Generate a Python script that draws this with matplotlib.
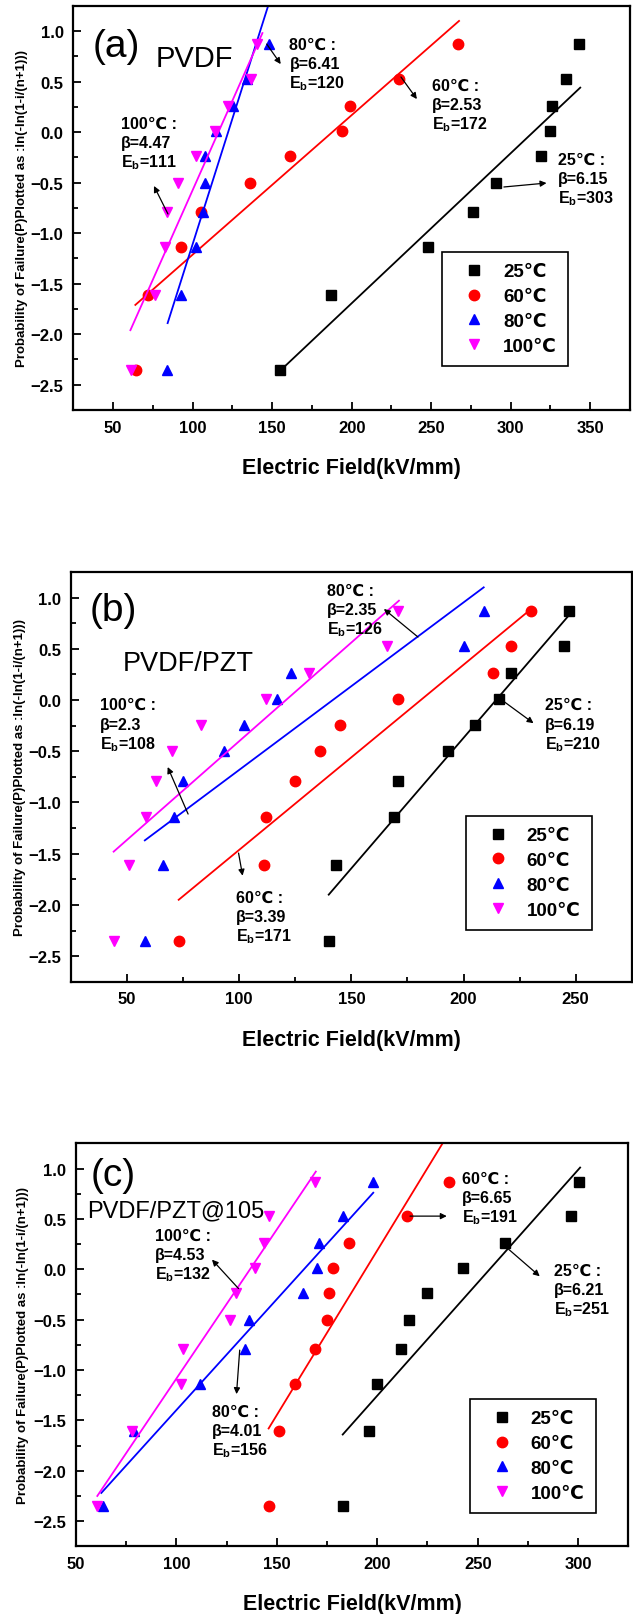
import matplotlib
matplotlib.use('Agg')
import matplotlib.pyplot as plt

plt.rcParams['font.family'] = ['Liberation Sans', 'DejaVu Sans']
plt.rcParams['font.weight'] = 'bold'
plt.rcParams['axes.labelweight'] = 'bold'
plt.rcParams['mathtext.default'] = 'regular'

# Weibull plotting positions ln(-ln(1-i/(n+1))) for the 10 samples
prob = [-2.35, -1.61, -1.14, -0.79, -0.50, -0.24, 0.01, 0.26, 0.53, 0.87]

temps = ['25℃', '60℃', '80℃', '100℃']
colors = ['black', 'red', 'blue', 'magenta']
markers = ['s', 'o', '^', 'v']

# (a) PVDF breakdown fields, kV/mm
pvdf_25 = [155, 187, 248, 276, 291, 319, 325, 326, 335, 343]
pvdf_60 = [64.5, 72, 93, 105, 136, 161, 194, 199, 230, 267]
pvdf_80 = [84, 93, 102, 106.5, 107.5, 107.5, 115, 125.5, 134.5, 148]
pvdf_100 = [61, 76.5, 82.5, 84, 91, 102, 114, 122, 137, 140.5]
pvdf_fit_x = [[155.8, 343.7], [64, 267.5], [84.3, 147.5], [60.9, 143.9]]
pvdf_fit_y = [[-2.35, 0.44], [-1.71, 1.10], [-1.89, 1.25], [-1.96, 0.98]]
pvdf_beta = [6.15, 2.53, 6.41, 4.47]
pvdf_eb = [303, 172, 120, 111]

# (b) PVDF/PZT
pzt_25 = [140, 143, 169, 171, 193, 205, 216, 221, 245, 247]
pzt_60 = [73, 111, 112, 125, 136, 145, 171, 213, 221, 230]
pzt_80 = [58, 66, 71, 75, 93, 102, 117, 123, 200, 209]
pzt_100 = [44, 51, 58.3, 63, 70, 83, 112, 131.3, 166, 171]
pzt_fit_x = [[139.9, 247.1], [73, 229.1], [57.9, 209], [44, 171.2]]
pzt_fit_y = [[-1.90, 0.83], [-1.95, 0.87], [-1.37, 1.10], [-1.48, 0.97]]
pzt_beta = [6.19, 3.39, 2.35, 2.3]
pzt_eb = [210, 171, 126, 108]

# (c) PVDF/PZT@105
pzt105_25 = [183, 195.7, 199.7, 211.7, 215.7, 224.8, 242.6, 263.7, 296.6, 300.6]
pzt105_60 = [146, 151, 159, 169, 174.8, 176, 178, 186, 214.7, 235.6]
pzt105_80 = [63.6, 78.7, 111.8, 133.9, 136, 163, 170, 171, 183, 198]
pzt105_100 = [60.6, 77.7, 102.2, 103.2, 126.8, 129.9, 138.9, 143.7, 145.9, 169]
pzt105_fit_x = [[182.8, 301], [145.9, 232.5], [62.6, 198], [60.6, 169.4]]
pzt105_fit_y = [[-1.64, 1.01], [-1.58, 1.25], [-2.22, 0.76], [-2.25, 0.97]]
pzt105_beta = [6.21, 6.65, 4.01, 4.53]
pzt105_eb = [251, 191, 156, 132]


def draw_panel(ax, series, fit_x, fit_y, xlim, xticks):
    for i in range(4):
        ax.plot(series[i], prob, linestyle='none', marker=markers[i],
                color=colors[i], ms=7 if markers[i] == 's' else 7.5,
                label=temps[i])
        ax.plot(fit_x[i], fit_y[i], color=colors[i], lw=1.3)
    ax.set_xlim(*xlim)
    ax.set_ylim(-2.75, 1.25)
    ax.set_xticks(xticks)
    minor = [t + 25 for t in xticks[:-1]]
    if xticks[0] - 25 > xlim[0]:
        minor.append(xticks[0] - 25)
    ax.set_xticks(minor, minor=True)
    ax.set_yticks([-2.5, -2.0, -1.5, -1.0, -0.5, 0.0, 0.5, 1.0])
    ax.set_yticks([-2.25, -1.75, -1.25, -0.75, -0.25, 0.25, 0.75], minor=True)
    ax.tick_params(which='both', direction='in', width=1.3, labelsize=12,
                   pad=7)
    ax.tick_params(which='major', length=6)
    ax.tick_params(which='minor', length=3.5)
    ax.tick_params(top=False, right=False)
    for s in ax.spines.values():
        s.set_linewidth(1.6)
    ax.set_xlabel('Electric Field(kV/mm)', fontsize=15.5, fontweight='bold',
                  va='center')
    ax.xaxis.set_label_coords(0.5, -0.141)
    ax.set_ylabel('Probability of Failure(P)Plotted as :ln(-ln(1-i/(n+1)))',
                  fontsize=9.5, fontweight='bold', va='center')


def note(ax, x, y, temp, beta, eb, dy=0.19):
    ax.text(x, y, temp + ' :', fontsize=11.5, va='center')
    ax.text(x, y - dy, 'β=' + str(beta), fontsize=11.5, va='center')
    ax.text(x, y - 2 * dy, 'E$_b$=' + str(eb), fontsize=11.5, va='center')


def arrow(ax, x0, y0, x1, y1):
    ax.annotate('', xy=(x1, y1), xytext=(x0, y0),
                arrowprops=dict(arrowstyle='-|>', color='black', lw=0.9,
                                mutation_scale=9, shrinkA=0, shrinkB=0))


def legend(ax, x0, y0):
    leg = ax.legend(loc='upper left', bbox_to_anchor=(x0, y0),
                    borderaxespad=0, fontsize=13.5, numpoints=1,
                    handlelength=2.2, handletextpad=0.45, borderpad=0.6,
                    labelspacing=0.41, fancybox=False, framealpha=1,
                    edgecolor='black')
    leg.get_frame().set_linewidth(1.2)


fig = plt.figure(figsize=(6.33, 16.15), dpi=100)

# (a)
ax1 = fig.add_axes([0.1158, 0.7455, 0.8795, 0.2503])
draw_panel(ax1, [pvdf_25, pvdf_60, pvdf_80, pvdf_100], pvdf_fit_x, pvdf_fit_y,
           (25, 375), [50, 100, 150, 200, 250, 300, 350])
ax1.yaxis.set_label_coords(-0.092, 0.5)
ax1.text(52.2, 0.856, '(a)', fontsize=28, fontweight='normal',
         ha='center', va='center')
ax1.text(77, 0.733, 'PVDF', fontsize=21, fontweight='normal', va='center')
note(ax1, 329.7, -0.266, temps[0], pvdf_beta[0], pvdf_eb[0])
note(ax1, 250.5, 0.466, temps[1], pvdf_beta[1], pvdf_eb[1])
note(ax1, 160.9, 0.871, temps[2], pvdf_beta[2], pvdf_eb[2])
note(ax1, 54.7, 0.09, temps[3], pvdf_beta[3], pvdf_eb[3])
arrow(ax1, 295.7, -0.543, 322.5, -0.504)
arrow(ax1, 231.0, 0.545, 241.0, 0.327)
arrow(ax1, 146.6, 0.871, 155.4, 0.673)
arrow(ax1, 84.5, -0.81, 75.7, -0.533)
legend(ax1, 0.663, 0.391)

# (b)
ax2 = fig.add_axes([0.1122, 0.3915, 0.8858, 0.2537])
draw_panel(ax2, [pzt_25, pzt_60, pzt_80, pzt_100], pzt_fit_x, pzt_fit_y,
           (25, 275), [50, 100, 150, 200, 250])
ax2.yaxis.set_label_coords(-0.091, 0.5)
ax2.text(43.7, 0.879, '(b)', fontsize=28, fontweight='normal',
         ha='center', va='center')
ax2.text(48.1, 0.361, 'PVDF/PZT', fontsize=19.5, fontweight='normal',
         va='center')
note(ax2, 236.3, -0.046, temps[0], pzt_beta[0], pzt_eb[0])
note(ax2, 98.4, -1.924, temps[1], pzt_beta[1], pzt_eb[1])
note(ax2, 139.1, 1.074, temps[2], pzt_beta[2], pzt_eb[2])
note(ax2, 37.9, -0.046, temps[3], pzt_beta[3], pzt_eb[3])
arrow(ax2, 217.6, -0.008, 231.2, -0.226)
arrow(ax2, 99.7, -1.494, 101.5, -1.715)
arrow(ax2, 179.7, 0.615, 164.5, 0.889)
arrow(ax2, 77.2, -1.113, 68.1, -0.654)
legend(ax2, 0.704, 0.405)

# (c)
ax3 = fig.add_axes([0.1201, 0.0419, 0.8725, 0.2495])
draw_panel(ax3, [pzt105_25, pzt105_60, pzt105_80, pzt105_100],
           pzt105_fit_x, pzt105_fit_y, (50, 325), [50, 100, 150, 200, 250, 300])
ax3.yaxis.set_label_coords(-0.096, 0.5)
ax3.text(68.5, 0.94, '(c)', fontsize=28, fontweight='normal',
         ha='center', va='center')
ax3.text(55.5, 0.588, 'PVDF/PZT@105', fontsize=17, fontweight='normal',
         va='center')
note(ax3, 287.9, -0.013, temps[0], pzt105_beta[0], pzt105_eb[0])
note(ax3, 242.2, 0.901, temps[1], pzt105_beta[1], pzt105_eb[1])
note(ax3, 117.7, -1.407, temps[2], pzt105_beta[2], pzt105_eb[2])
note(ax3, 89.2, 0.34, temps[3], pzt105_beta[3], pzt105_eb[3])
arrow(ax3, 265.4, 0.199, 280.9, -0.069)
arrow(ax3, 216.3, 0.528, 234.6, 0.528)
arrow(ax3, 131.5, -0.802, 129.9, -1.239)
arrow(ax3, 130.9, -0.191, 117.7, 0.096)
legend(ax3, 0.713, 0.3655)

fig.savefig('out.png', dpi=100)
